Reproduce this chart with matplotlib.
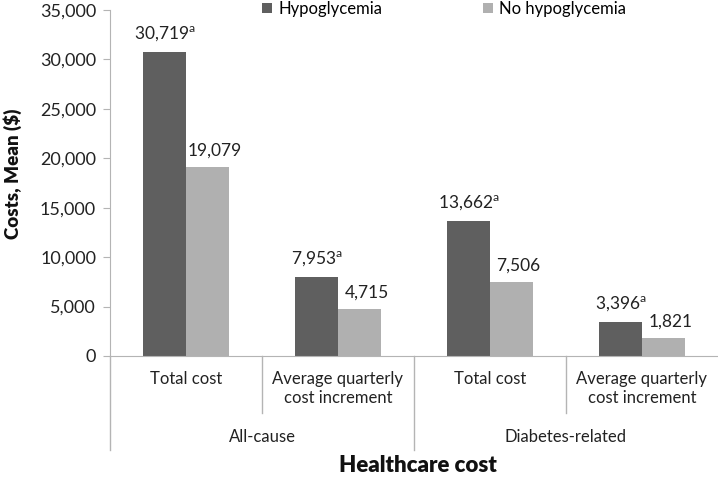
import numpy as np
import matplotlib
matplotlib.use("Agg")
import matplotlib.pyplot as plt
from matplotlib.transforms import blended_transform_factory

plt.rcParams["font.family"] = ["Lato", "DejaVu Sans"]

# data
categories = ["Total cost", "Average quarterly\ncost increment",
              "Total cost", "Average quarterly\ncost increment"]
groups = ["All-cause", "Diabetes-related"]
hypo = [30719, 7953, 13662, 3396]
no_hypo = [19079, 4715, 7506, 1821]
series_names = ["Hypoglycemia", "No hypoglycemia"]

dark = "#5f5f5f"
light = "#b0b0b0"
line_col = "#b4b4b4"
txt = "#222222"

fig = plt.figure(figsize=(7.18, 4.78), dpi=100)
ax = fig.add_axes([110 / 718, 122 / 478, 608 / 718, 346 / 478])

x = np.arange(len(categories))
w = 0.283
b1 = ax.bar(x - w / 2, hypo, w, color=dark, label=series_names[0])
b2 = ax.bar(x + w / 2, no_hypo, w, color=light, label=series_names[1])

for rect, v in zip(b1, hypo):
    ax.annotate(f"{v:,}" + r"$^{\mathregular{a}}$",
                (rect.get_x() + rect.get_width() / 2, v),
                xytext=(0, 6), textcoords="offset points",
                ha="center", va="bottom", fontsize=12.5, color=txt)
for rect, v in zip(b2, no_hypo):
    ax.annotate(f"{v:,}", (rect.get_x() + rect.get_width() / 2, v),
                xytext=(5, 6), textcoords="offset points",
                ha="center", va="bottom", fontsize=12.5, color=txt)

ax.set_xlim(-0.5, len(categories) - 0.5)
ax.set_ylim(0, 35000)
ax.set_yticks(np.arange(0, 35001, 5000))
ax.set_yticklabels([f"{t:,}" for t in range(0, 35001, 5000)], fontsize=13, color=txt)
ax.tick_params(axis="y", length=5, color=line_col, pad=5)
ax.set_xticks([])

for s in ["top", "right"]:
    ax.spines[s].set_visible(False)
ax.spines["left"].set_color(line_col)
ax.spines["bottom"].set_color(line_col)

# category and group labels
tr = blended_transform_factory(ax.transData, ax.transAxes)
for i, c in enumerate(categories):
    ax.text(i, -0.042, c, transform=tr, ha="center", va="top",
            fontsize=12, color=txt, linespacing=1.3)
for j, g in enumerate(groups):
    ax.text(2 * j + 0.5, -0.235, g, transform=tr, ha="center", va="center",
            fontsize=12, color=txt)

# separators
for xs, y0 in [(-0.5, -0.272), (0.5, -0.165), (1.5, -0.272), (2.5, -0.165)]:
    ax.plot([xs, xs], [0, y0], transform=tr, color=line_col, lw=1, clip_on=False)

fig.text(13 / 718, 1 - 174 / 478, "Costs, Mean ($)", rotation=90, ha="center",
         va="center", fontsize=13.5, fontweight="heavy", color="#111111")
fig.text(418 / 718, 13 / 478, "Healthcare cost", ha="center", va="center",
         fontsize=16, fontweight="heavy", color="#111111")

fig.legend(loc="center", bbox_to_anchor=(444 / 718, 1 - 9 / 478), ncol=2,
           frameon=False, fontsize=12, handlelength=0.6, handleheight=0.6,
           handletextpad=0.4, columnspacing=6)

fig.savefig("out.png", dpi=100)
